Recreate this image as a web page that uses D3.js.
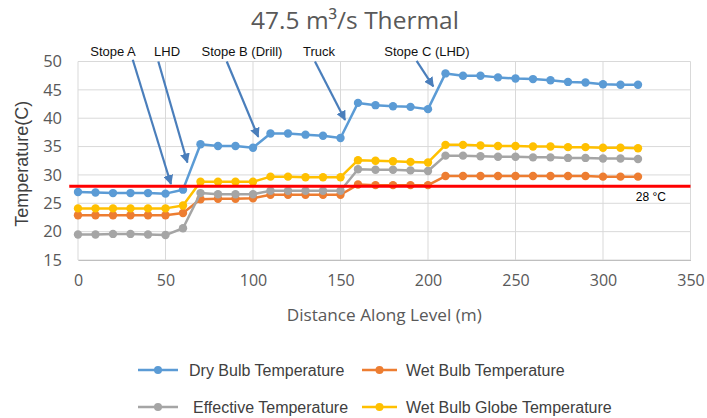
<!DOCTYPE html>
<html>
<head>
<meta charset="utf-8">
<script src="https://cdn.jsdelivr.net/npm/d3@7"></script>
<style>
  html, body { margin: 0; padding: 0; background: #ffffff; }
  svg { display: block; }
</style>
</head>
<body>
<svg id="chart" width="707" height="418"></svg>
<script>
// ---- Data ----
const distance = [0,10,20,30,40,50,60,70,80,90,100,110,120,130,140,150,160,170,180,190,200,210,220,230,240,250,260,270,280,290,300,310,320];
const dryBulb = [27.0,26.9,26.8,26.8,26.8,26.7,27.4, 35.4,35.1,35.1,34.8, 37.3,37.3,37.1,36.9,36.5, 42.7,42.3,42.1,42.0,41.6, 47.9,47.5,47.5,47.2,47.0,46.9,46.7,46.4,46.3,46.0,45.9,45.9];
const wetBulb = [22.9,22.9,22.9,22.9,22.9,22.9,23.3, 25.7,25.8,25.8,25.9, 26.5,26.5,26.5,26.5,26.5, 28.3,28.2,28.2,28.2,28.2, 29.8,29.8,29.8,29.8,29.8,29.8,29.8,29.8,29.8,29.7,29.7,29.7];
const effective = [19.5,19.5,19.6,19.6,19.5,19.4,20.6, 26.8,26.6,26.6,26.6, 27.2,27.2,27.2,27.2,27.2, 31.0,30.9,30.9,30.8,30.7, 33.4,33.4,33.3,33.2,33.2,33.1,33.1,33.0,33.0,32.9,32.9,32.8];
const wbgt = [24.1,24.1,24.1,24.1,24.1,24.1,24.6, 28.8,28.8,28.8,28.8, 29.7,29.7,29.6,29.6,29.6, 32.6,32.5,32.4,32.3,32.2, 35.3,35.3,35.2,35.1,35.1,35.0,35.0,34.9,34.9,34.8,34.8,34.7];
const seriesNames = ["Dry Bulb Temperature","Wet Bulb Temperature","Effective Temperature","Wet Bulb Globe Temperature"];
const seriesColors = ["#5B9BD5","#ED7D31","#A5A5A5","#FFC000"];
const xTicks = [0,50,100,150,200,250,300,350];
const yTicks = [15,20,25,30,35,40,45,50];
const limitValue = 28;
const limitLabel = "28 °C";
const limitRange = [-5, 350];
// annotations: label x, arrow start [x,y], arrow end [x,y] (data units)
const annLabels = ["Stope A","LHD","Stope B (Drill)","Truck","Stope C (LHD)"];
const annLabelX = [20, 50.9, 93.7, 137.7, 199.4];
const annStart = [[31.3,50.3],[45.9,50.0],[85.0,50.0],[135.4,50.0],[193.5,50.1]];
const annEnd = [[53.1,28.4],[62.5,32.2],[103.0,36.7],[152.6,39.7],[203.0,45.6]];

// ---- Chart ----
const svg = d3.select("#chart");
const x = d3.scaleLinear().domain([0,350]).range([78,690.5]);
const y = d3.scaleLinear().domain([15,50]).range([260,61.5]);

svg.append("text")
  .attr("x", 355).attr("y", 29)
  .attr("text-anchor","middle")
  .attr("font-family","'Open Sans', sans-serif")
  .attr("font-size", 24.5)
  .attr("fill","#595959")
  .text("47.5 m³/s Thermal");

// gridlines
const grid = svg.append("g");
grid.selectAll("line.h").data(yTicks).join("line")
  .attr("x1", x(0)).attr("x2", x(350))
  .attr("y1", d=>y(d)).attr("y2", d=>y(d))
  .attr("stroke","#d9d9d9").attr("stroke-width",1);
grid.selectAll("line.v").data(xTicks).join("line")
  .attr("y1", y(15)).attr("y2", y(50))
  .attr("x1", d=>x(d)).attr("x2", d=>x(d))
  .attr("stroke","#d9d9d9").attr("stroke-width",1);

// axes
const xAxis = svg.append("g").attr("transform",`translate(0,${y(15)})`)
  .call(d3.axisBottom(x).tickValues(xTicks).tickSize(0).tickPadding(15));
xAxis.select(".domain").attr("stroke","#bfbfbf");
xAxis.selectAll("text").attr("font-family","'Open Sans', sans-serif").attr("font-size",16).attr("fill","#595959");

const yAxis = svg.append("g").attr("transform",`translate(${x(0)},0)`)
  .call(d3.axisLeft(y).tickValues(yTicks).tickSize(0).tickPadding(16));
yAxis.select(".domain").remove();
yAxis.selectAll("text").attr("font-family","'Open Sans', sans-serif").attr("font-size",16.5).attr("fill","#595959");

svg.append("text")
  .attr("x", (x(0)+x(350))/2).attr("y", 321)
  .attr("text-anchor","middle")
  .attr("font-family","'Open Sans', sans-serif")
  .attr("font-size",17.2).attr("fill","#595959")
  .text("Distance Along Level (m)");

svg.append("text")
  .attr("transform",`translate(28,${(y(15)+y(50))/2+3}) rotate(-90)`)
  .attr("text-anchor","middle")
  .attr("font-family","'Liberation Sans', Arial, sans-serif")
  .attr("font-size",18).attr("fill","#404040")
  .text("Temperature(C)");

// series
const allSeries = [dryBulb, wetBulb, effective, wbgt];
const line = d3.line().x((d,i)=>x(distance[i])).y(d=>y(d));
allSeries.forEach((vals, k) => {
  const g = svg.append("g");
  g.append("path").datum(vals)
    .attr("d", line).attr("fill","none")
    .attr("stroke", seriesColors[k]).attr("stroke-width",2.5).attr("stroke-linejoin","round");
  g.selectAll("circle").data(vals).join("circle")
    .attr("cx",(d,i)=>x(distance[i])).attr("cy",d=>y(d)).attr("r",4.2)
    .attr("fill", seriesColors[k]);
});

// limit line
svg.append("line")
  .attr("x1", x(limitRange[0])).attr("x2", x(limitRange[1]))
  .attr("y1", y(limitValue)).attr("y2", y(limitValue))
  .attr("stroke","#ff0000").attr("stroke-width",3);
svg.append("text")
  .attr("x", x(327.4)).attr("y", y(limitValue)+15)
  .attr("text-anchor","middle")
  .attr("font-family","'Liberation Sans', Arial, sans-serif")
  .attr("font-size",12).attr("fill","#000")
  .text(limitLabel);

// annotations
const defs = svg.append("defs");
defs.append("marker").attr("id","arrow")
  .attr("viewBox","0 0 10 10").attr("refX",9).attr("refY",5)
  .attr("markerWidth",4.5).attr("markerHeight",4.5).attr("orient","auto")
  .append("path").attr("d","M0,0 L10,5 L0,10 z").attr("fill","#4A7EBB");
annLabels.forEach((lab,i) => {
  svg.append("text")
    .attr("x", x(annLabelX[i])).attr("y", y(50)-6)
    .attr("text-anchor","middle")
    .attr("font-family","'Liberation Sans', Arial, sans-serif")
    .attr("font-size",13).attr("fill","#111")
    .text(lab);
  svg.append("line")
    .attr("x1", x(annStart[i][0])).attr("y1", y(annStart[i][1]))
    .attr("x2", x(annEnd[i][0])).attr("y2", y(annEnd[i][1]))
    .attr("stroke","#4A7EBB").attr("stroke-width",2.2)
    .attr("marker-end","url(#arrow)");
});

// legend
const legendPos = [[138,370],[362,370],[138,407],[362,407]];
const legendTextX = [189,406,193,406];
seriesNames.forEach((name,k) => {
  const [lx,ly] = legendPos[k];
  const w = k%2===0 ? 40 : 35;
  svg.append("line").attr("x1",lx).attr("x2",lx+w).attr("y1",ly).attr("y2",ly)
    .attr("stroke",seriesColors[k]).attr("stroke-width",2.5);
  svg.append("circle").attr("cx",lx+w/2).attr("cy",ly).attr("r",4).attr("fill",seriesColors[k]);
  svg.append("text").attr("x",legendTextX[k]).attr("y",ly+5.5)
    .attr("font-family","'Liberation Sans', Arial, sans-serif")
    .attr("font-size",16).attr("fill","#404040")
    .text(name);
});
</script>
</body>
</html>
